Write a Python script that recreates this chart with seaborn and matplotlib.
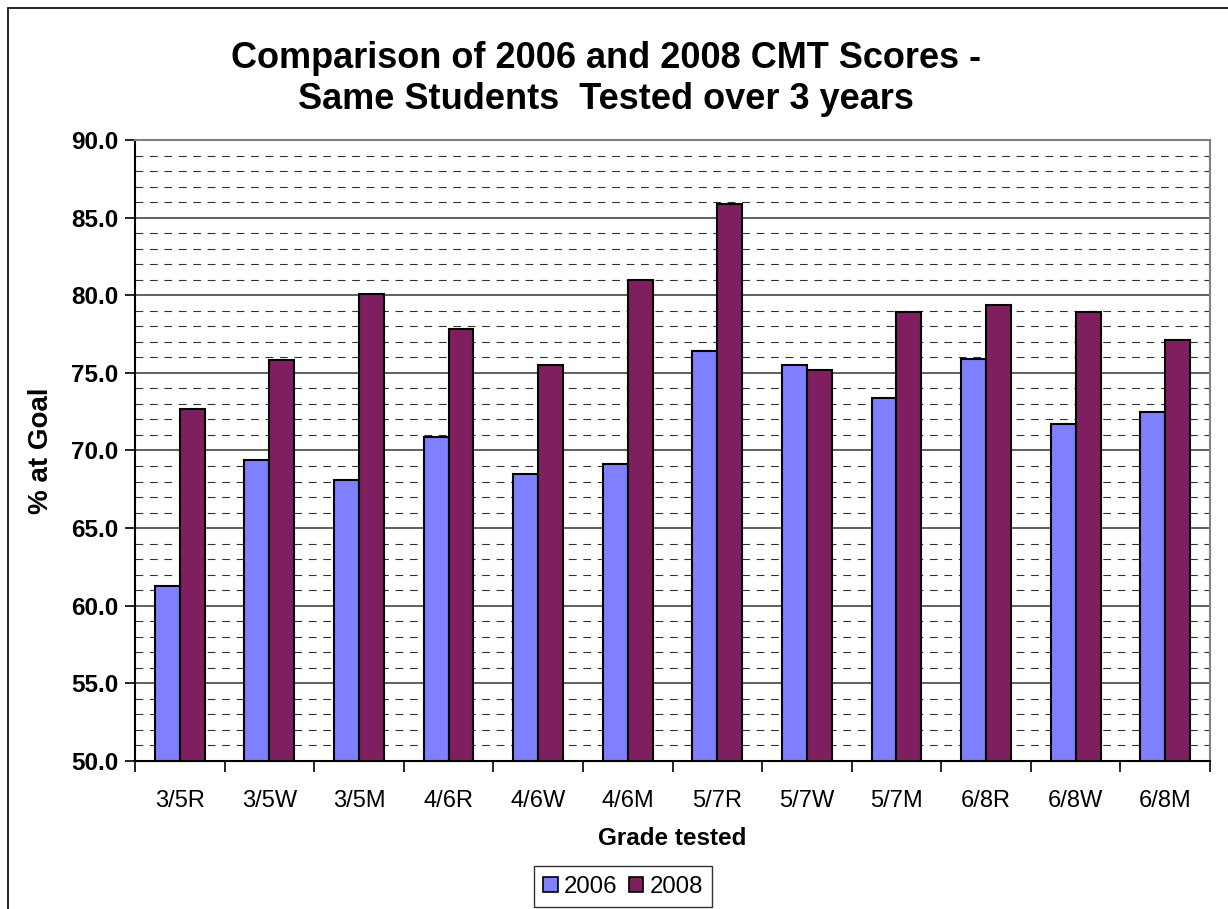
import seaborn as sns
import pandas as pd
import matplotlib.pyplot as plt
from matplotlib.patches import Rectangle
from matplotlib.ticker import MultipleLocator

# values
grades = ['3/5R', '3/5W', '3/5M', '4/6R', '4/6W', '4/6M',
          '5/7R', '5/7W', '5/7M', '6/8R', '6/8W', '6/8M']
scores_2006 = [61.3, 69.4, 68.1, 70.9, 68.5, 69.1, 76.4, 75.5, 73.4, 75.9, 71.7, 72.5]
scores_2008 = [72.7, 75.8, 80.1, 77.8, 75.5, 81.0, 85.9, 75.2, 78.9, 79.4, 78.9, 77.1]
years = ['2006', '2008']
colors = ['#8080FF', '#7F1F5F']

data = pd.DataFrame({
    'grade': grades * 2,
    'year': [years[0]] * len(grades) + [years[1]] * len(grades),
    'score': scores_2006 + scores_2008,
})

sns.set_style('white')
plt.rcParams['font.family'] = ['Liberation Sans', 'DejaVu Sans']
plt.rcParams.update({'text.color': 'black', 'axes.labelcolor': 'black',
                     'xtick.color': 'black', 'ytick.color': 'black'})

fig = plt.figure(figsize=(12.28, 9.09), dpi=100)
ax = fig.add_axes([135 / 1228, 1 - 761 / 909, (1210 - 135) / 1228, (761 - 140) / 909])

sns.barplot(data, x='grade', y='score', hue='year', palette=colors, ax=ax,
            width=0.556, edgecolor='black', linewidth=1.5, legend=False,
            order=grades, hue_order=years, saturation=1)

# y axis with dashed minor lines and solid major lines
ax.set_ylim(50, 90)
ax.yaxis.set_major_locator(MultipleLocator(5))
ax.yaxis.set_minor_locator(MultipleLocator(1))
ax.yaxis.set_major_formatter(lambda v, p: f'{v:.1f}')
ax.grid(axis='y', which='major', color='#444444', linewidth=1.2, linestyle='-')
ax.grid(axis='y', which='minor', color='#333333', linewidth=0.8, linestyle=(0, (7, 6)))
ax.set_axisbelow(True)

# category labels sit between the tick marks
ax.set_xlim(-0.5, len(grades) - 0.5)
ax.set_xticks([i - 0.5 for i in range(len(grades) + 1)], minor=False)
ax.set_xticklabels([])
ax.set_xticks(range(len(grades)), minor=True)
ax.set_xticklabels(grades, minor=True)
ax.tick_params(axis='x', which='major', direction='out', length=8, width=1.2, color='black', bottom=True)
ax.tick_params(axis='x', which='minor', length=0, labelsize=17, pad=21)
ax.tick_params(axis='y', which='major', direction='out', length=7, width=1.2, color='black',
               left=True, labelsize=17.5, pad=5)
ax.tick_params(axis='y', which='minor', length=0)
for lab in ax.get_yticklabels():
    lab.set_fontweight('bold')

for side in ['left', 'bottom']:
    ax.spines[side].set_color('black')
    ax.spines[side].set_linewidth(1.5)
for side in ['top', 'right']:
    ax.spines[side].set_color('#808080')
    ax.spines[side].set_linewidth(1.5)

ax.set_xlabel('Grade tested', fontsize=17.5, fontweight='bold', labelpad=11)
ax.set_ylabel('% at Goal', fontsize=20, fontweight='bold', labelpad=12)

fig.text(0.4935, 1 - 79 / 909, 'Comparison of 2006 and 2008 CMT Scores -\nSame Students  Tested over 3 years',
         ha='center', va='center', fontsize=26, fontweight='bold', linespacing=1.25)

handles = [Rectangle((0, 0), 1, 1, facecolor=c, edgecolor='black', linewidth=1.2) for c in colors]
leg = fig.legend(handles, years, loc='upper center', bbox_to_anchor=(623 / 1228, 1 - 866 / 909),
                 ncol=2, fontsize=17.3, frameon=True, fancybox=False, edgecolor='black',
                 handlelength=0.6, handleheight=0.6, handletextpad=0.25, columnspacing=0.5,
                 borderpad=0.4, borderaxespad=0)
leg.get_frame().set_linewidth(1.0)

# chart area border
fig.patches.append(Rectangle((8 / 1228, -0.1), 1.2, 1 - 8 / 909 + 0.1, transform=fig.transFigure,
                             fill=False, edgecolor='black', linewidth=1.2))

fig.savefig('out.png', dpi=100)
